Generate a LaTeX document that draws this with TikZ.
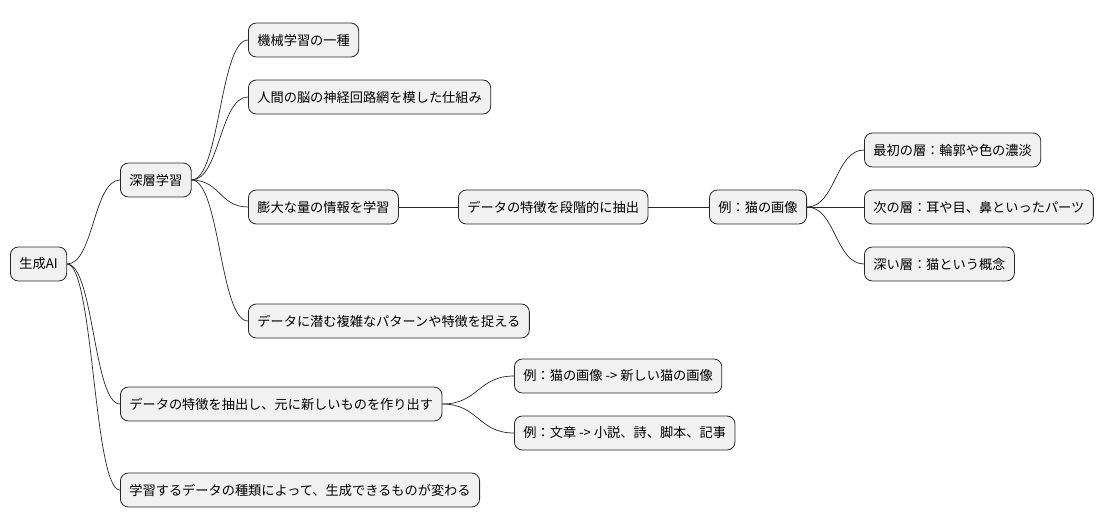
\documentclass[tikz,border=0pt]{standalone}
\usepackage{fontspec}
\usetikzlibrary{calc}
\setmainfont{Noto Sans CJK JP}
\begin{document}
\begin{tikzpicture}[x=1pt,y=-1pt,
 n/.style={draw=black!85,line width=0.8pt,fill={rgb,255:red,241;green,241;blue,241},rounded corners=8pt,minimum height=34pt,inner xsep=9pt,anchor=west,font=\fontsize{13.2pt}{15pt}\selectfont},
 c/.style={line width=0.7pt,black!85}]
\useasboundingbox (0,0) rectangle (1118,527);
\node[n] (r) at (10,264) {生成AI};
\node[n] (d) at (120,180) {深層学習};
\node[n] (a1) at (248,40) {機械学習の一種};
\node[n] (a2) at (248,97) {人間の脳の神経回路網を模した仕組み};
\node[n] (a3) at (248,207) {膨大な量の情報を学習};
\node[n] (b1) at (458,207) {データの特徴を段階的に抽出};
\node[n] (b2) at (709,207) {例：猫の画像};
\node[n] (c1) at (864,150) {最初の層：輪郭や色の濃淡};
\node[n] (c2) at (864,207) {次の層：耳や目、鼻といったパーツ};
\node[n] (c3) at (864,264) {深い層：猫という概念};
\node[n] (a4) at (248,321) {データに潜む複雑なパターンや特徴を捉える};
\node[n] (e) at (120,404) {データの特徴を抽出し、元に新しいものを作り出す};
\node[n] (e1) at (514,376) {例：猫の画像 -> 新しい猫の画像};
\node[n] (e2) at (514,433) {例：文章 -> 小説、詩、脚本、記事};
\node[n] (f) at (120,490) {学習するデータの種類によって、生成できるものが変わる};
\foreach \p/\q in {r/d,r/e,r/f,d/a1,d/a2,d/a3,d/a4,a3/b1,b1/b2,b2/c1,b2/c2,b2/c3,e/e1,e/e2}{
 \path (\p.east) coordinate (s) (\q.west) coordinate (t);
 \path ($(s)!0.5!(t)$) coordinate (m);
 \draw[c] (s) .. controls (m |- s) and (m |- t) .. (t);
}
\end{tikzpicture}
\end{document}
